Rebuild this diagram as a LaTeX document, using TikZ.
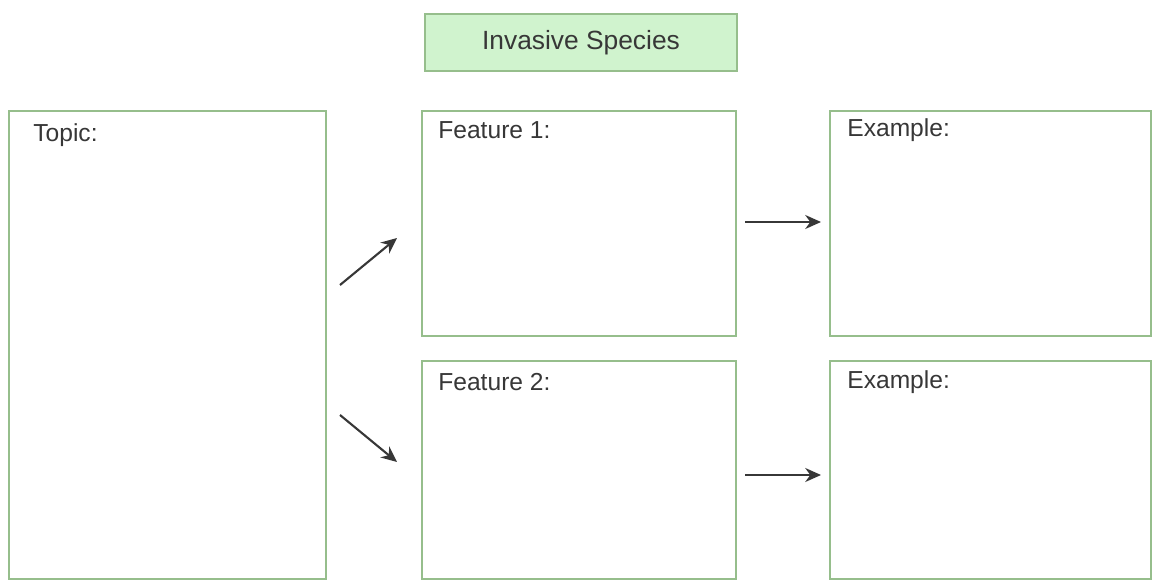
\documentclass[tikz,border=0pt]{standalone}
\usepackage{fontspec}
\setmainfont{Liberation Sans}
\usetikzlibrary{arrows.meta,positioning,calc}
\definecolor{boxline}{RGB}{150,190,140}
\definecolor{titlefill}{RGB}{208,243,206}
\definecolor{ink}{RGB}{55,55,55}
\begin{document}
\begin{tikzpicture}
            \tikzset{panel/.style={draw=boxline, line width=0.9pt, inner sep=0pt, anchor=north west},
                     tag/.style={anchor=west, text=ink, font=\fontsize{14}{16}\selectfont, inner sep=0pt},
                     link/.style={ink, line width=1.2pt, -{Stealth[length=9pt,width=8pt]}}}
            \useasboundingbox (0, 0) rectangle (23.04, 11.6);
            % title strip
            \node [panel, fill=titlefill, anchor=center, minimum width=6.24cm, minimum height=1.14cm, text=ink, font=\fontsize{15}{17}\selectfont] (title) at (11.62, 10.75) {Invasive Species};
            % boxes
            \node [panel, minimum width=6.34cm, minimum height=9.36cm] (topic) at (0.16, 9.4) {};
            \node [panel, minimum width=6.28cm, minimum height=4.5cm] (feat1) at (8.42, 9.4) {};
            \node [panel, minimum width=6.28cm, minimum height=4.36cm] (feat2) at (8.42, 4.4) {};
            \node [panel, minimum width=6.42cm, minimum height=4.5cm] (ex1) at (16.58, 9.4) {};
            \node [panel, minimum width=6.42cm, minimum height=4.36cm] (ex2) at (16.58, 4.4) {};
            \node [tag] (topictxt) at ($(topic.north west)+(0.5, -0.5)$) {Topic:};
            \node [tag] (feat1txt) at ($(feat1.north west)+(0.34, -0.4)$) {Feature 1:};
            \node [tag] (feat2txt) at ($(feat2.north west)+(0.34, -0.44)$) {Feature 2:};
            \node [tag] (ex1txt) at ($(ex1.north west)+(0.36, -0.4)$) {Example:};
            \node [tag] (ex2txt) at ($(ex2.north west)+(0.36, -0.44)$) {Example:};
            % arrows
            \coordinate (up0) at (6.8, 5.9);
            \coordinate (up1) at (7.94, 6.84);
            \coordinate (dn0) at (6.8, 3.3);
            \coordinate (dn1) at (7.94, 2.36);
            \coordinate (r0) at (14.9, 7.16);
            \coordinate (r1) at (16.42, 7.16);
            \coordinate (s0) at (14.9, 2.1);
            \coordinate (s1) at (16.42, 2.1);
            \draw[link] (up0) -- (up1);
            \draw[link] (dn0) -- (dn1);
            \draw[link] (r0) -- (r1);
            \draw[link] (s0) -- (s1);
        \end{tikzpicture}
\end{document}
